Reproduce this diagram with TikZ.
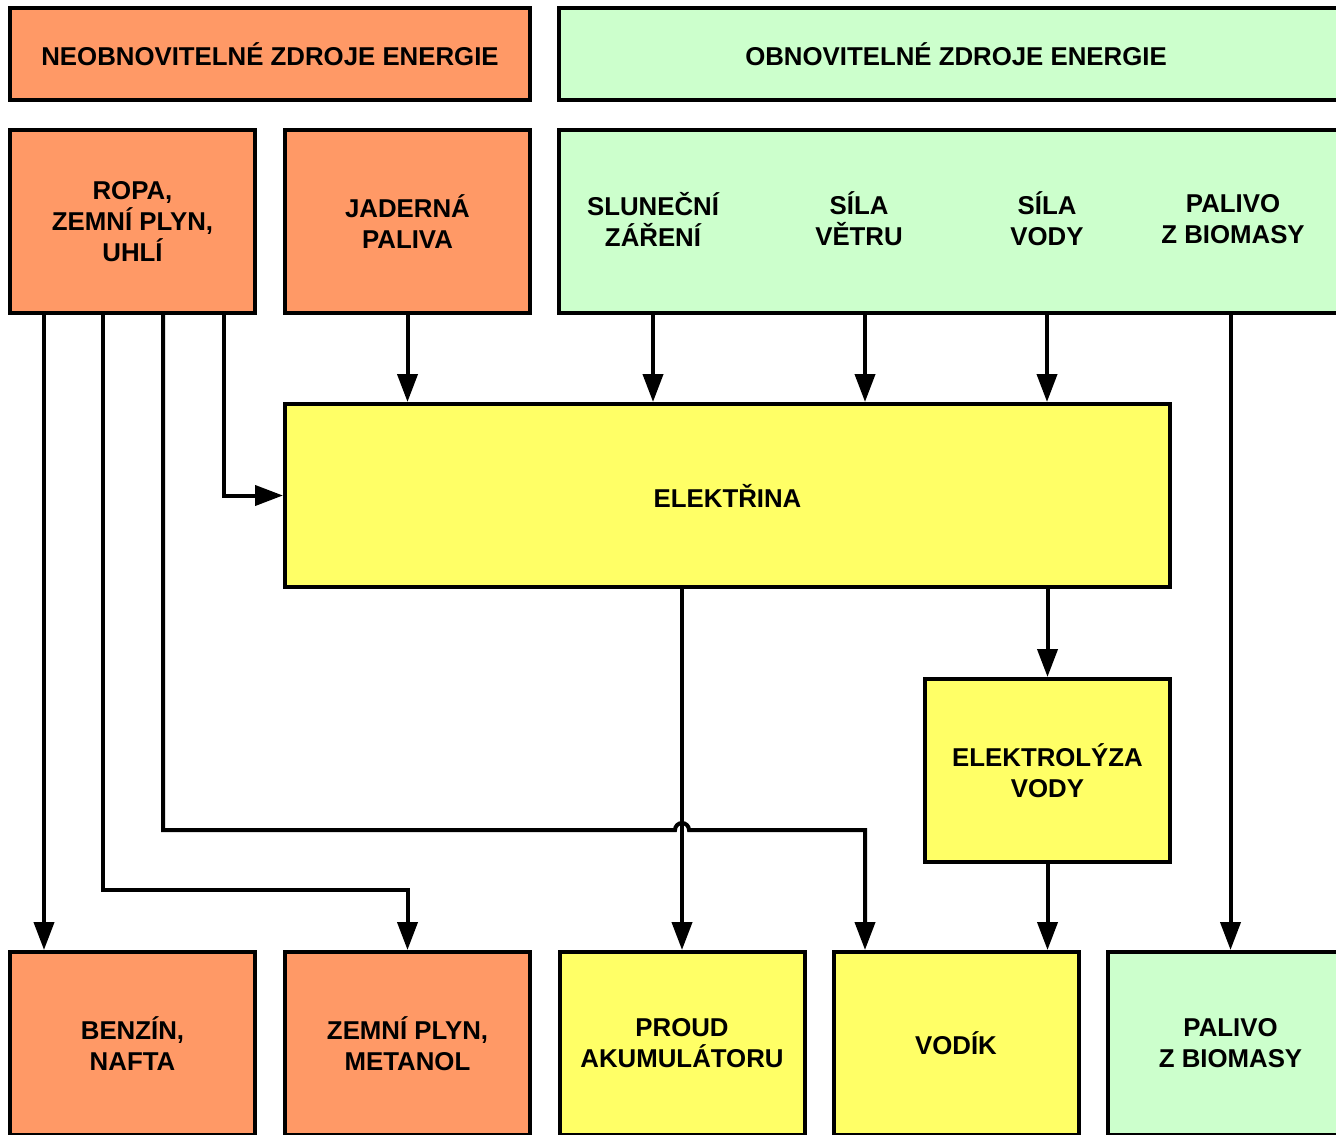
\documentclass[tikz,border=0pt]{standalone}
\usepackage{fontspec}
\setmainfont{Liberation Sans}
\usetikzlibrary{arrows.meta,calc}
\definecolor{orng}{RGB}{255,153,102}
\definecolor{grn}{RGB}{204,255,204}
\definecolor{yel}{RGB}{255,255,102}
\begin{document}
\begin{tikzpicture}[x=0.5pt,y=-0.5pt,
  box/.style={draw=black,line width=2pt,minimum width=122.5pt,minimum height=91.5pt,inner sep=0pt,align=center,font=\bfseries\fontsize{12.9}{15.5}\selectfont},
  lbl/.style={inner sep=0pt,align=center,font=\bfseries\fontsize{12.9}{15.5}\selectfont},
  arr/.style={line width=2pt,-{Triangle[length=14pt,width=10pt]}}]
\useasboundingbox (0,0) rectangle (1336,1134);
\clip (0,0) rectangle (1336,1134);
% headers
\node[box,fill=orng,minimum width=260pt,minimum height=46pt] (nh) at (270,54) {NEOBNOVITELNÉ ZDROJE ENERGIE};
\node[box,fill=grn,minimum width=397pt,minimum height=46pt] (oh) at (956,54) {OBNOVITELNÉ ZDROJE ENERGIE};
% sources
\node[box,fill=orng] (ropa) at (132.5,221.5) {ROPA,\\ZEMNÍ PLYN,\\UHLÍ};
\node[box,fill=orng] (jad) at (407.5,221.5) {JADERNÁ\\PALIVA};
\node[box,fill=grn,minimum width=397pt] (obn) at (956,221.5) {};
\node[lbl] (slun) at (653,219) {SLUNEČNÍ\\ZÁŘENÍ};
\node[lbl] (vitr) at (859,219) {SÍLA\\VĚTRU};
\node[lbl] (voda) at (1047,219) {SÍLA\\VODY};
\node[lbl] (bio) at (1233,219) {PALIVO\\Z BIOMASY};
% middle
\node[box,fill=yel,minimum width=442.5pt] (elek) at (727.5,495.5) {ELEKTŘINA};
\node[box,fill=yel] (elyz) at (1047.5,770.5) {ELEKTROLÝZA\\VODY};
% bottom
\node[box,fill=orng] (benz) at (132.5,1043.5) {BENZÍN,\\NAFTA};
\node[box,fill=orng] (zem) at (407.5,1043.5) {ZEMNÍ PLYN,\\METANOL};
\node[box,fill=yel] (proud) at (682,1043.5) {PROUD\\AKUMULÁTORU};
\node[box,fill=yel] (vodik) at (956,1043.5) {VODÍK};
\node[box,fill=grn] (pal) at (1230.5,1043.5) {PALIVO\\Z BIOMASY};
% helper coordinates
\coordinate (xa) at (44,0);
\coordinate (xb) at (103,0);
\coordinate (xc) at (163,0);
\coordinate (xd) at (224,0);
\coordinate (xv) at (865,0);
\coordinate (yb) at (0,890);
\coordinate (yc) at (0,830);
% connectors
\draw[arr] (ropa.south -| xa) -- (benz.north -| xa);
\draw[arr] (ropa.south -| xb) -- (xb |- yb) -| (zem.north);
\draw[arr] (ropa.south -| xd) |- (elek.west);
\draw[arr] (jad.south) -- (elek.north -| jad.south);
\draw[arr] (obn.south -| slun) -- (elek.north -| slun);
\draw[arr] (obn.south -| xv) -- (elek.north -| xv);
\draw[arr] (obn.south -| voda) -- (elek.north -| voda);
\draw[arr] (obn.south -| pal) -- (pal.north);
\draw[arr] (elek.south -| proud) -- (proud.north);
\draw[arr] (elek.south -| elyz) -- (elyz.north);
\draw[arr] (elyz.south) -- (vodik.north -| elyz.south);
\draw[arr] (ropa.south -| xc) -- (xc |- yc) -- ($(proud.north |- yc)+(-7,0)$) arc[start angle=180,end angle=360,radius=7] -- (xv |- yc) -- (vodik.north -| xv);
\end{tikzpicture}
\end{document}
